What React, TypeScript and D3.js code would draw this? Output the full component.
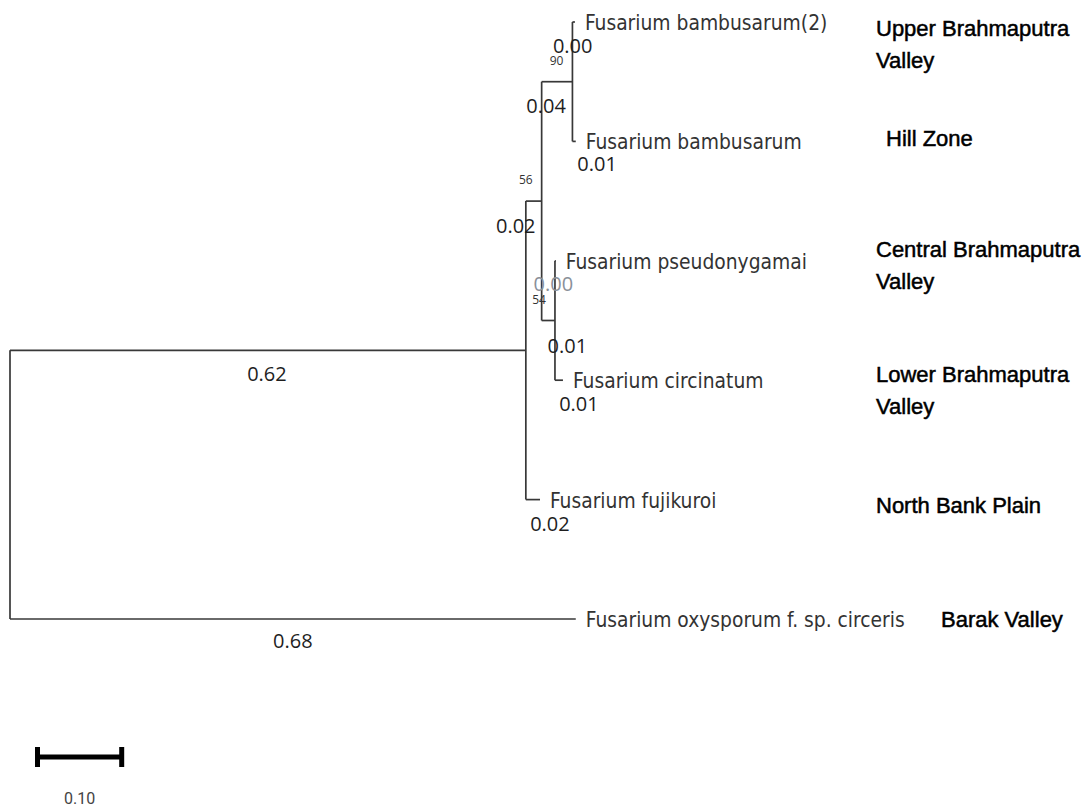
import * as d3 from "d3";

// tree topology (parent of each node) and branch lengths
const nodeIds = ["root", "n1", "n2", "n3", "bamb2", "bamb", "n4", "pseudo", "circ", "fuji", "oxy"];
const parentIds = ["", "root", "n1", "n2", "n3", "n3", "n2", "n4", "n4", "n1", "root"];
const branchLengths = [0, 0.62, 0.019, 0.037, 0.003, 0.004, 0.016, 0.001, 0.0096, 0.017, 0.68];
const branchLabels = ["", "0.62", "0.02", "0.04", "0.00", "0.01", "0.01", "0.00", "0.01", "0.02", "0.68"];

const tipIds = ["bamb2", "bamb", "pseudo", "circ", "fuji", "oxy"];
const tipNames = [
  "Fusarium bambusarum(2)",
  "Fusarium bambusarum",
  "Fusarium pseudonygamai",
  "Fusarium circinatum",
  "Fusarium fujikuroi",
  "Fusarium oxysporum f. sp. circeris",
];
const regionLines = [
  ["Upper Brahmaputra", "Valley"],
  ["Hill Zone"],
  ["Central Brahmaputra", "Valley"],
  ["Lower Brahmaputra", "Valley"],
  ["North Bank Plain"],
  ["Barak Valley"],
];

const bootNodes = ["n3", "n2", "n4"];
const bootValues = [90, 56, 54];

const scaleBarValue = 0.1;

// label placement tweaks (px), by node index
const lenLabelDx = [0, -1, -18, -11, -1, 23, 19, -2, 20, 17, 0];
const lenLabelDy = [0, 31, 32, 31, 31, 30, 32, 30, 31, 31, 29];
const regionDx = [0, 10, 0, 0, 0, 65];
const regionDy = [14, 5, -4, 2, 13, 8];

const W = 1089;
const H = 808;

export default function App() {
  const x = d3.scaleLinear().domain([0, 1]).range([10, 842]);
  const y = d3.scaleLinear().domain([0, tipIds.length - 1]).range([22, 619]);

  const table = nodeIds.map((id, i) => ({
    id,
    parent: parentIds[i] || null,
    len: branchLengths[i],
    label: branchLabels[i],
    idx: i,
  }));
  const root = d3
    .stratify<any>()
    .id((d) => d.id)
    .parentId((d) => d.parent)(table);

  // depth in branch length units
  const depth = new Map<string, number>();
  root.eachBefore((n: any) => {
    depth.set(n.id, (n.parent ? depth.get(n.parent.id)! : 0) + n.data.len);
  });
  const pos = new Map<string, { x: number; y: number }>();
  root.eachAfter((n: any) => {
    let yy: number;
    if (!n.children) yy = y(tipIds.indexOf(n.id));
    else {
      const ys = n.children.map((c: any) => pos.get(c.id)!.y);
      yy = (ys[0] + ys[ys.length - 1]) / 2;
    }
    pos.set(n.id, { x: x(depth.get(n.id)!), y: yy });
  });

  const lineColor = "#383838";
  const segs: JSX.Element[] = [];
  root.each((n: any) => {
    const p = pos.get(n.id)!;
    if (n.children) {
      const ys = n.children.map((c: any) => pos.get(c.id)!.y);
      segs.push(
        <line key={"v" + n.id} x1={p.x} x2={p.x} y1={ys[0]} y2={ys[ys.length - 1]} />
      );
    }
    if (n.parent) {
      const pp = pos.get(n.parent.id)!;
      segs.push(<line key={"h" + n.id} x1={pp.x} x2={p.x} y1={p.y} y2={p.y} />);
    }
  });

  const lenTexts: JSX.Element[] = [];
  root.each((n: any) => {
    if (!n.parent) return;
    const p = pos.get(n.id)!;
    const pp = pos.get(n.parent.id)!;
    const i = n.data.idx;
    lenTexts.push(
      <text
        key={"l" + n.id}
        x={(pp.x + p.x) / 2 + lenLabelDx[i]}
        y={p.y + lenLabelDy[i]}
        textAnchor="middle"
        fill={n.id === "pseudo" ? "#8a9099" : "#1e1e1e"}
      >
        {n.data.label}
      </text>
    );
  });

  const barX0 = x(0) + 28;
  const barX1 = barX0 + (x(scaleBarValue) - x(0));
  const barY = 757;

  return (
    <svg
      width={W}
      height={H}
      style={{ position: "absolute", left: 0, top: 0, display: "block", background: "#fff" }}
    >
      <g stroke={lineColor} strokeWidth={1.7} fill="none">
        {segs}
      </g>

      <g fontFamily="'Open Sans', sans-serif" fontSize={20}>
        {lenTexts}
      </g>

      <g fontFamily="'Open Sans', sans-serif" fontSize={12} fill="#333" textAnchor="end">
        {bootNodes.map((id, i) => {
          const p = pos.get(id)!;
          return (
            <text key={id} x={p.x - 9} y={p.y - 17}>
              {bootValues[i]}
            </text>
          );
        })}
      </g>

      <g fontFamily="'DejaVu Sans Condensed', 'DejaVu Sans', sans-serif" fontSize={20.8} fill="#333">
        {tipIds.map((id, i) => {
          const p = pos.get(id)!;
          return (
            <text key={id} x={p.x + 10} y={p.y + 8}>
              {tipNames[i]}
            </text>
          );
        })}
      </g>

      <g
        fontFamily="'Liberation Sans', Arial, sans-serif"
        fontSize={22}
        fill="#000"
        stroke="#000"
        strokeWidth={0.5}
      >
        {tipIds.map((id, i) => {
          const p = pos.get(id)!;
          return (
            <text key={id} x={876 + regionDx[i]} y={p.y + regionDy[i]}>
              {regionLines[i].map((t, j) => (
                <tspan key={j} x={876 + regionDx[i]} dy={j === 0 ? 0 : 32}>
                  {t}
                </tspan>
              ))}
            </text>
          );
        })}
      </g>

      <g fill="#000">
        <rect x={barX0} y={barY - 2.5} width={barX1 - barX0} height={5} />
        <rect x={barX0 - 3} y={barY - 10} width={5} height={20} />
        <rect x={barX1 - 2} y={barY - 10} width={5} height={20} />
      </g>
      <text
        x={(barX0 + barX1) / 2}
        y={804}
        textAnchor="middle"
        fontFamily="Roboto, sans-serif"
        fontSize={16}
        fill="#444"
      >
        {scaleBarValue.toFixed(2)}
      </text>
    </svg>
  );
}
